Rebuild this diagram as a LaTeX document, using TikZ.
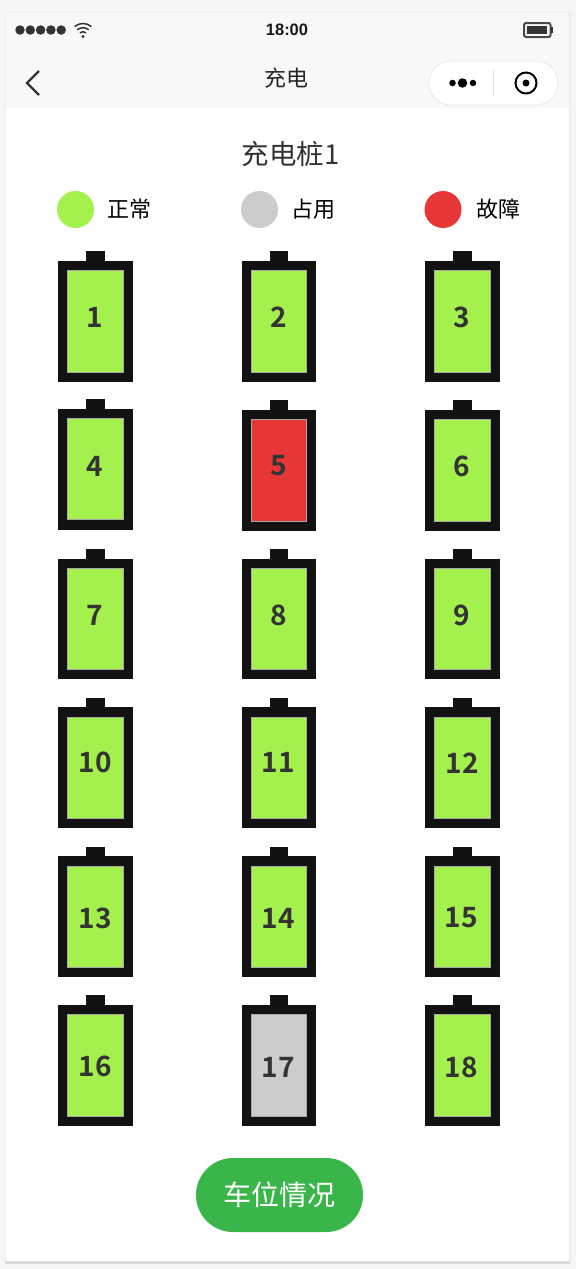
\documentclass[tikz,border=0pt]{standalone}
\usepackage{fontspec}
\setmainfont{Noto Sans CJK SC}[BoldFont={Noto Sans CJK SC Bold}]
\newfontfamily\timefont{Liberation Sans}
\definecolor{pagebg}{HTML}{F6F6F6}
\definecolor{navbg}{HTML}{F8F8F8}
\definecolor{shadowc}{HTML}{EDEDED}
\definecolor{shadowd}{HTML}{DADADA}
\definecolor{okgreen}{HTML}{A4F14E}
\definecolor{busygray}{HTML}{CCCCCC}
\definecolor{faultred}{HTML}{E73636}
\definecolor{batblack}{HTML}{121212}
\definecolor{btngreen}{HTML}{39B54A}
\definecolor{txt}{HTML}{333333}
\definecolor{edgec}{HTML}{A8A8A8}
\tikzset{
  x=1pt,y=-1pt,
  px/.style={inner sep=0pt,outer sep=0pt},
  battbody/.style n args={2}{px,rectangle,fill=batblack,minimum width=#1,minimum height=#2},
  battcap/.style={px,rectangle,fill=batblack,minimum width=18.5pt,minimum height=10.5pt},
  battcell/.style n args={3}{px,rectangle,fill=#1,draw=edgec,line width=0.7pt,minimum width=#2,minimum height=#3},
  battnum/.style={px,font=\fontsize{28}{28}\selectfont\bfseries,text=txt},
  legenddot/.style={px,circle,minimum size=37pt,fill=#1},
  legendtext/.style={px,font=\fontsize{22}{22}\selectfont,text=black,anchor=west},
}
% [#1 width], #2 x-left, #3 y-top, #4 height, #5 number, #6 colour, #7 number x, #8 number y
\newcommand{\battery}[8][74.5]{%
  \node[battcap] (cap#5) at (#2+#1/2,#3-4.5) {};
  \node[battbody={#1pt}{#4pt}] (bat#5) at (#2+#1/2,#3+#4/2) {};
  \node[battcell={#6}{#1pt-19pt}{#4pt-19.5pt}] (cell#5) at (#2+#1/2,#3+#4/2) {};
  \node[battnum] (num#5) at (#7,#8) {#5};
}
\begin{document}
\begin{tikzpicture}
\useasboundingbox (0,0) rectangle (576,1269);
\fill[pagebg] (0,0) rectangle (576,1269);
\fill[shadowc] (4.5,12) rectangle (570.5,1263);
\fill[shadowd] (5,1261) rectangle (570,1263.5);
\fill[white] (6,13) rectangle (569,1261);
\fill[navbg] (6,13) rectangle (569,108);
% status bar
\foreach \i/\xx in {1/20,2/30.3,3/40.6,4/50.9,5/61.2}
  \node[px,circle,fill=txt,minimum size=9.5pt] (sig\i) at (\xx,30) {};
\fill[txt] (83,36.5) circle (1.6pt);
\foreach \r in {4.8,8.8,13}
  \draw[txt,line width=1.5pt] ([shift={(130:\r pt)}]83,36.5) arc[start angle=130,end angle=50,radius=\r pt];
\node[px,font=\timefont\bfseries\fontsize{16.5}{16.5}\selectfont,text=black!90] (time) at (287,30) {18:00};
\draw[txt!90,line width=2pt,rounded corners=2pt] (524,23) rectangle (550.5,37);
\fill[txt] (527,26) rectangle (547,34);
\fill[txt] (551,27) rectangle (552.5,33);
% navigation bar
\coordinate (ba) at (39,71);
\coordinate (bb) at (27,83);
\coordinate (bc) at (39,95);
\draw[txt,line width=2.2pt] (ba) -- (bb) -- (bc);
\node[px,font=\fontsize{22}{22}\selectfont,text=black!85] (navtitle) at (286,78) {充电};
\fill[white,draw=black!8,line width=0.8pt,rounded corners=22pt] (429,61) rectangle (558,105);
\node[px,circle,fill=black,minimum size=6.5pt] (d1) at (452.5,83) {};
\node[px,circle,fill=black,minimum size=9.5pt] (d2) at (462.5,83) {};
\node[px,circle,fill=black,minimum size=6.5pt] (d3) at (473,83) {};
\draw[black!12,line width=0.8pt] (493,70) -- (493,96);
\node[px,circle,draw=black,line width=2pt,minimum size=21pt] (t1) at (526,83) {};
\node[px,circle,fill=black,minimum size=7pt] (t2) at (526,83) {};
% title
\node[px,font=\fontsize{27.5}{27.5}\selectfont,text=txt] (title) at (290.5,154) {充电桩1};
% legend
\node[legenddot=okgreen] (l1) at (75.5,209.5) {};
\node[legendtext] (lt1) at (107.5,209) {正常};
\node[legenddot=busygray] (l2) at (259.5,209.5) {};
\node[legendtext] (lt2) at (291,209) {占用};
\node[legenddot=faultred] (l3) at (443,209.5) {};
\node[legendtext] (lt3) at (476,209) {故障};
% batteries
\battery{58}{261}{121}{1}{okgreen}{95}{317}
\battery[74]{242}{261}{121}{2}{okgreen}{279}{317}
\battery{425}{261}{121}{3}{okgreen}{462}{317}
\battery{58}{409}{120.5}{4}{okgreen}{95}{466}
\battery[74]{242}{410}{121}{5}{faultred}{278.5}{466}
\battery{425}{410}{121}{6}{okgreen}{462}{466}
\battery{58}{559}{120}{7}{okgreen}{95}{615}
\battery[74]{242}{559}{120}{8}{okgreen}{279}{615}
\battery{425}{559}{120}{9}{okgreen}{462}{615}
\battery{58}{707.3}{120.7}{10}{okgreen}{95}{762}
\battery[74]{242}{707.3}{120.7}{11}{okgreen}{278}{762}
\battery{425}{707.3}{120.7}{12}{okgreen}{462}{763}
\battery{58}{856.3}{120.7}{13}{okgreen}{95}{918}
\battery[74]{242}{856.3}{120.7}{14}{okgreen}{278.5}{918}
\battery{425}{856.3}{120.7}{15}{okgreen}{461}{918}
\battery{58}{1005}{121}{16}{okgreen}{95}{1066}
\battery[74]{242}{1005}{121}{17}{busygray}{278}{1067}
\battery{425}{1005}{121}{18}{okgreen}{461}{1067}
% button
\node[px,rectangle,rounded corners=37pt,fill=btngreen,minimum width=167pt,minimum height=74pt,text=white,font=\fontsize{28}{28}\selectfont] (btn) at (279.5,1195) {车位情况};
\end{tikzpicture}
\end{document}
